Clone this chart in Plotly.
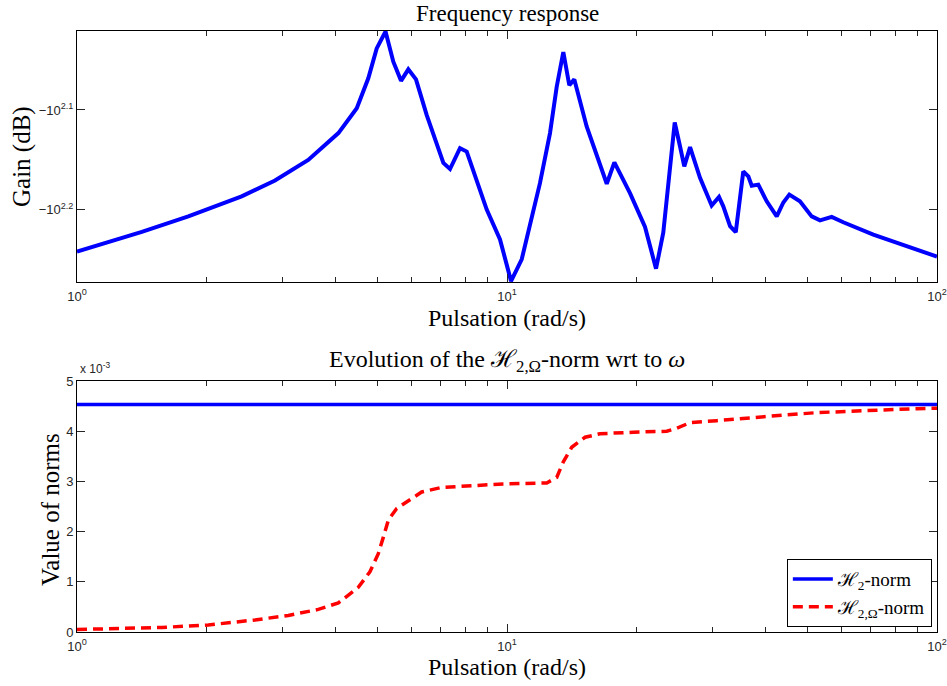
import plotly.graph_objects as go

# Frequency response: pulsation (rad/s) and gain (dB)
omega_freq = [1.00, 1.18, 1.415, 1.815, 2.415, 2.887, 3.45, 4.054, 4.473, 4.758,
              4.977, 5.218, 5.44, 5.67, 5.895, 6.143, 6.506, 7.112, 7.37, 7.775,
              8.06, 8.971, 9.632, 10.22, 10.82, 11.93, 12.59, 13.05, 13.52, 13.96,
              14.34, 15.32, 17.06, 17.77, 19.32, 20.94, 22.21, 23.09, 23.94, 24.55,
              25.26, 25.84, 26.65, 28.11, 29.92, 31.12, 31.84, 33.02, 34.04, 34.83,
              35.44, 36.41, 37.08, 38.41, 40.18, 42.39, 43.92, 45.35, 48.0, 51.12,
              53.45, 56.9, 60.54, 71.1, 85.0, 100.0]
gain_db = [-174.7, -170.9, -166.9, -161.0, -153.7, -148.2, -141.3, -132.8, -125.4, -117.0,
           -109.2, -105.0, -112.6, -117.7, -114.6, -117.3, -127.4, -142.3, -144.3, -137.5,
           -138.6, -158.5, -169.8, -187.0, -177.8, -149.1, -132.8, -119.3, -110.1, -118.9,
           -117.3, -130.8, -149.3, -142.1, -152.6, -165.0, -181.7, -167.2, -143.4, -129.6,
           -137.0, -143.4, -137.2, -147.3, -157.0, -153.9, -157.3, -164.7, -167.0, -154.9,
           -145.1, -146.8, -150.0, -149.6, -155.5, -161.0, -155.9, -153.1, -155.5, -161.0,
           -162.5, -161.2, -163.2, -167.9, -172.5, -176.7]

# Norm evolution (values in units of 1e-3)
omega_norm = [1.0, 1.226, 1.574, 2.02, 2.594, 3.1, 3.64, 4.054, 4.51, 4.8,
              5.02, 5.158, 5.297, 5.54, 5.895, 6.333, 7.05, 8.43, 9.80, 12.37,
              13.05, 13.52, 14.14, 15.19, 16.46, 19.67, 23.52, 24.81, 26.65, 30.74,
              36.74, 43.92, 52.5, 62.8, 75.0, 89.7, 100.0]
h2_omega_norm = [0.05, 0.066, 0.09, 0.14, 0.24, 0.33, 0.45, 0.58, 0.89, 1.2,
                 1.56, 1.89, 2.23, 2.46, 2.62, 2.79, 2.88, 2.92, 2.95, 2.97,
                 3.08, 3.39, 3.68, 3.88, 3.95, 3.98, 4.0, 4.06, 4.17, 4.21,
                 4.27, 4.32, 4.37, 4.40, 4.43, 4.45, 4.46]
h2_norm = 4.53
h2_norm_span = [1.0, 100.0]

x_tickvals = [1, 10, 100]
x_ticktext = ["10<sup>0</sup>", "10<sup>1</sup>", "10<sup>2</sup>"]
x_minor = [2, 3, 4, 5, 6, 7, 8, 9, 20, 30, 40, 50, 60, 70, 80, 90]
gain_tick_exp = [2.1, 2.2]
norm_ticks = [0, 1, 2, 3, 4, 5]

SERIF = "Liberation Serif"
SANS = "Liberation Sans"

fig = go.Figure()

# Gain is negative: plot its magnitude on a reversed log axis
fig.add_trace(go.Scatter(
    x=omega_freq, y=[-g for g in gain_db], mode="lines",
    line=dict(color="#0000ff", width=4), showlegend=False,
    xaxis="x", yaxis="y"))

fig.add_trace(go.Scatter(
    x=h2_norm_span, y=[h2_norm, h2_norm], mode="lines",
    line=dict(color="#0000ff", width=3.5), name="ℋ<sub>2</sub>-norm",
    xaxis="x2", yaxis="y2"))
fig.add_trace(go.Scatter(
    x=omega_norm, y=h2_omega_norm, mode="lines",
    line=dict(color="#ff0000", width=3.5, dash="10px,6px"),
    name="ℋ<sub>2,Ω</sub>-norm", xaxis="x2", yaxis="y2"))

tickfont = dict(family=SANS, size=13, color="#262626")
axis_common = dict(
    ticks="inside", ticklen=8, tickcolor="#262626", mirror="ticks",
    showline=True, linecolor="black", linewidth=1, showgrid=False,
    zeroline=False, tickfont=tickfont, automargin=False)
xcommon = dict(
    type="log", range=[0, 2], tickvals=x_tickvals, ticktext=x_ticktext,
    ticklabelstandoff=2,
    minor=dict(tickvals=x_minor, ticks="inside", ticklen=5, tickcolor="#262626"),
    **axis_common)

top_lo, top_hi = 0.5824, 1.0
bot_lo, bot_hi = 0.0, 0.4176

fig.update_layout(
    width=947, height=686, autosize=False,
    margin=dict(l=77, r=10, t=31, b=54),
    paper_bgcolor="white", plot_bgcolor="white",
    xaxis=dict(domain=[0, 1], anchor="y", **xcommon),
    yaxis=dict(domain=[top_lo, top_hi], anchor="x", type="log",
               range=[2.2727, 2.0207],
               tickvals=[10 ** e for e in gain_tick_exp],
               ticktext=["−10<sup>%g</sup>" % e for e in gain_tick_exp],
               **axis_common),
    xaxis2=dict(domain=[0, 1], anchor="y2", **xcommon),
    yaxis2=dict(domain=[bot_lo, bot_hi], anchor="x2", range=[0, 5],
                tickvals=norm_ticks, ticktext=[str(t) for t in norm_ticks],
                **axis_common),
    legend=dict(x=0.994, y=0.008, xanchor="right", yanchor="bottom",
                bgcolor="white", bordercolor="black", borderwidth=1,
                font=dict(family=SERIF, size=19, color="black"),
                tracegroupgap=0, itemwidth=40),
    showlegend=True,
)

def py(pix):
    return (632 - pix) / 601

def px(pix):
    return (pix - 77) / 860

texts = [
    dict(text="Frequency response", x=0.5, y=py(13), size=23, angle=0),
    dict(text="Pulsation (rad/s)", x=0.5, y=py(318), size=24, angle=0),
    dict(text="Evolution of the ℋ<sub>2,Ω</sub>-norm wrt to <i>ω</i>", x=0.5, y=py(361), size=24, angle=0),
    dict(text="Pulsation (rad/s)", x=0.5, y=py(667), size=24, angle=0),
    dict(text="Gain (dB)", x=px(22), y=py(157), size=25, angle=-90),
    dict(text="Value of norms", x=px(50), y=py(510), size=25, angle=-90),
]
for t in texts:
    fig.add_annotation(text=t["text"], x=t["x"], y=t["y"], xref="paper", yref="paper",
                       showarrow=False, xanchor="center", yanchor="middle",
                       textangle=t["angle"],
                       font=dict(family=SERIF, size=t["size"], color="black"))

fig.add_annotation(text="x 10<sup>-3</sup>", x=px(78), y=py(368), xref="paper", yref="paper",
                   showarrow=False, xanchor="left", yanchor="middle",
                   font=dict(family=SANS, size=12, color="#262626"))

fig.write_html("out.html")
